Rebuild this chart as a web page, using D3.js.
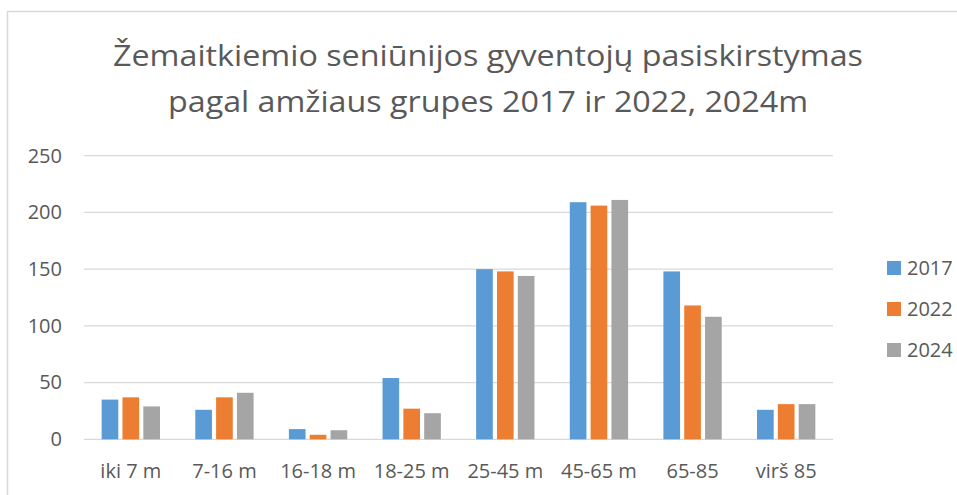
<!DOCTYPE html>
<html><head><meta charset="utf-8">
<script src="https://cdn.jsdelivr.net/npm/d3@7"></script>
<style>body{margin:0;background:#fff;overflow:hidden}</style>
</head><body>
<svg id="c" width="957" height="495"></svg>
<script>
const categories = ["iki 7 m","7-16 m","16-18 m","18-25 m","25-45 m","45-65 m","65-85","virš 85"];
const seriesNames = ["2017","2022","2024"];
const values2017 = [35,26,9,54,150,209,148,26];
const values2022 = [37,37,4,27,148,206,118,31];
const values2024 = [29,41,8,23,144,211,108,31];
const yTicks = [0,50,100,150,200,250];
const titleLines = ["Žemaitkiemio seniūnijos gyventojų pasiskirstymas","pagal amžiaus grupes 2017 ir 2022, 2024m"];
const colors = ["#5B9BD5","#ED7D31","#A5A5A5"];

const seriesValues = [values2017, values2022, values2024];
const FONT = "'Open Sans', sans-serif";
const TXT = "#595959";
const svg = d3.select("#c");

// frame
svg.append("rect").attr("x",7.5).attr("y",11.5).attr("width",960).attr("height",500)
  .attr("fill","none").attr("stroke","#D9D9D9").attr("stroke-width",1.5);

const plotLeft = 84, plotRight = 833, plotTop = 155.7, plotBottom = 439.3;
const x0 = d3.scaleBand().domain(categories).range([plotLeft,plotRight]).paddingInner(0.377).paddingOuter(0.1885);
const x1 = d3.scaleBand().domain(seriesNames).range([0,x0.bandwidth()]).paddingInner(0.2);
const y = d3.scaleLinear().domain([0,250]).range([plotBottom,plotTop]);

// gridlines
svg.append("g").selectAll("line").data(yTicks).join("line")
  .attr("x1",plotLeft).attr("x2",plotRight)
  .attr("y1",d=>y(d)).attr("y2",d=>y(d))
  .attr("stroke","#D9D9D9").attr("stroke-width",1.3);

// y axis labels
const ya = svg.append("g").attr("transform",`translate(${plotLeft-22},0)`)
  .call(d3.axisLeft(y).tickValues(yTicks).tickSize(0).tickPadding(0));
ya.select(".domain").remove();
ya.selectAll("text").attr("fill",TXT).style("font-family",FONT).style("font-size","20px");

// bars
const groups = svg.append("g").selectAll("g").data(categories).join("g")
  .attr("transform",d=>`translate(${x0(d)},0)`);
groups.selectAll("rect").data((d,i)=>seriesNames.map((s,j)=>({s,v:seriesValues[j][i],j})))
  .join("rect")
  .attr("x",d=>x1(d.s)).attr("width",x1.bandwidth())
  .attr("y",d=>y(d.v)).attr("height",d=>y(0)-y(d.v))
  .attr("fill",d=>colors[d.j]);

// x axis labels
const xa = svg.append("g").attr("transform",`translate(0,${plotBottom})`)
  .call(d3.axisBottom(x0).tickSize(0).tickPadding(0));
xa.select(".domain").remove();
xa.selectAll("text").attr("dy",null).attr("y",39).attr("fill",TXT)
  .style("font-family",FONT).style("font-size","20px");

// title
const titleWidths = [750, 640];
svg.append("g").selectAll("text").data(titleLines).join("text")
  .attr("x",488).attr("y",(d,i)=>66+i*45.5)
  .attr("text-anchor","middle").attr("fill",TXT)
  .attr("textLength",(d,i)=>titleWidths[i]).attr("lengthAdjust","spacingAndGlyphs")
  .style("font-family",FONT).style("font-size","30px").text(d=>d);

// legend
const lg = svg.append("g").selectAll("g").data(seriesNames).join("g")
  .attr("transform",(d,i)=>`translate(887,${268+i*41})`);
lg.append("rect").attr("x",0).attr("y",-7).attr("width",14).attr("height",14).attr("fill",(d,i)=>colors[i]);
lg.append("text").attr("x",20).attr("y",7).attr("fill",TXT)
  .style("font-family",FONT).style("font-size","20px").text(d=>d);
</script>
</body></html>
